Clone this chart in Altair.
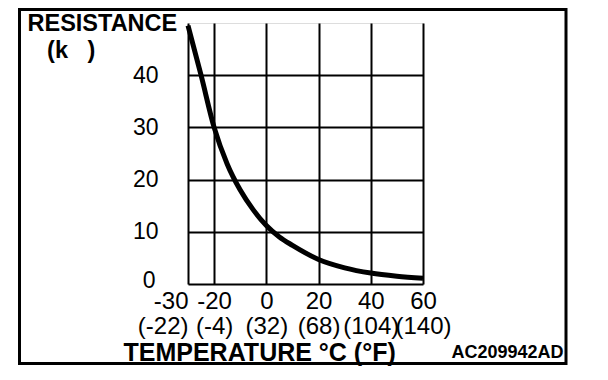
import altair as alt
import pandas as pd

# Curve data
temps_c = [-30, -25, -20, -15, -10, -5, 0, 5, 10, 20, 30, 40, 50, 60]
resistance_k = [49.5, 40, 30, 23, 18, 14.2, 11.2, 9.0, 7.4, 4.7, 3.1, 2.1, 1.5, 1.1]

# Axis ticks and labels
x_ticks = [-30, -20, 0, 20, 40, 60]
x_labels_c = ["-30", "-20", "0", "20", "40", "60"]
x_labels_f = ["(-22)", "(-4)", "(32)", "(68)", "(104)", "(140)"]
y_ticks = [0, 10, 20, 30, 40]

y_title = ["RESISTANCE", "\u200b\u00a0\u00a0\u00a0(k\u00a0\u00a0\u00a0)"]
x_title = "TEMPERATURE °C (°F)"
code_label = "AC209942AD"

FONT = "Liberation Sans"

df = pd.DataFrame({"t": temps_c, "r": resistance_k})
one = pd.DataFrame({"k": [0]})

label_expr = "".join(
    f"datum.value == {v} ? ['{c}', '{f}'] : "
    for v, c, f in zip(x_ticks, x_labels_c, x_labels_f)
) + "''"

x_scale = alt.Scale(domain=[-30, 60], nice=False, zero=False)
y_scale = alt.Scale(domain=[0, 50], nice=False)

line = alt.Chart(df).mark_line(
    color="black", strokeWidth=5, interpolate="monotone"
).encode(
    x=alt.X("t:Q", scale=x_scale,
            axis=alt.Axis(
                values=x_ticks, grid=True, gridColor="black", gridWidth=2,
                gridOpacity=1, domain=False, ticks=False,
                labelExpr=label_expr, labelFont=FONT, labelFontSize=24,
                labelColor="black", labelLineHeight=25, labelPadding=5,
                labelBaseline="top", labelFlush=False, labelOverlap=False,
                labelAlign=alt.condition("datum.value == -30", alt.value("right"), alt.value("center")),
                title=x_title, titleFont=FONT, titleFontSize=25,
                titleFontWeight="bold", titleColor="black",
                titleAlign="left", titleBaseline="alphabetic",
                titleX=-65, titleY=76,
            )),
    y=alt.Y("r:Q", scale=y_scale,
            axis=alt.Axis(
                values=y_ticks, grid=True, gridColor="black", gridWidth=2,
                gridOpacity=1, domain=False, ticks=False,
                labelFont=FONT, labelFontSize=23, labelColor="black",
                labelPadding=alt.condition("datum.value == 0", alt.value(33), alt.value(30)),
                labelOffset=alt.condition("datum.value == 0", alt.value(-4), alt.value(0)),
                labelBaseline="middle",
                title=y_title, titleFont=FONT, titleFontSize=23.5,
                titleFontWeight="bold", titleColor="black", titleAngle=0,
                titleAlign="left", titleBaseline="top", titleLineHeight=27,
                titleX=-161, titleY=-12,
            )),
)

frame = alt.Chart(one).mark_rect(
    filled=False, stroke="black", strokeWidth=3
).encode(
    x=alt.value(-168.5), x2=alt.value(378),
    y=alt.value(-13.5), y2=alt.value(340.5),
)

code = alt.Chart(one).mark_text(
    font=FONT, fontSize=18, fontWeight="bold", color="black",
    align="right", baseline="alphabetic"
).encode(
    x=alt.value(375.5), y=alt.value(335), text=alt.value(code_label)
)

chart = alt.layer(line, frame, code).properties(
    width=235, height=261,
    padding={"left": 180, "top": 15, "right": 170, "bottom": 90},
    autosize=alt.AutoSizeParams(type="none"),
).configure_view(
    stroke="black", strokeWidth=2.5
).configure(background="white")

chart.save("out.html", embed_options={"renderer": "svg", "actions": False})
